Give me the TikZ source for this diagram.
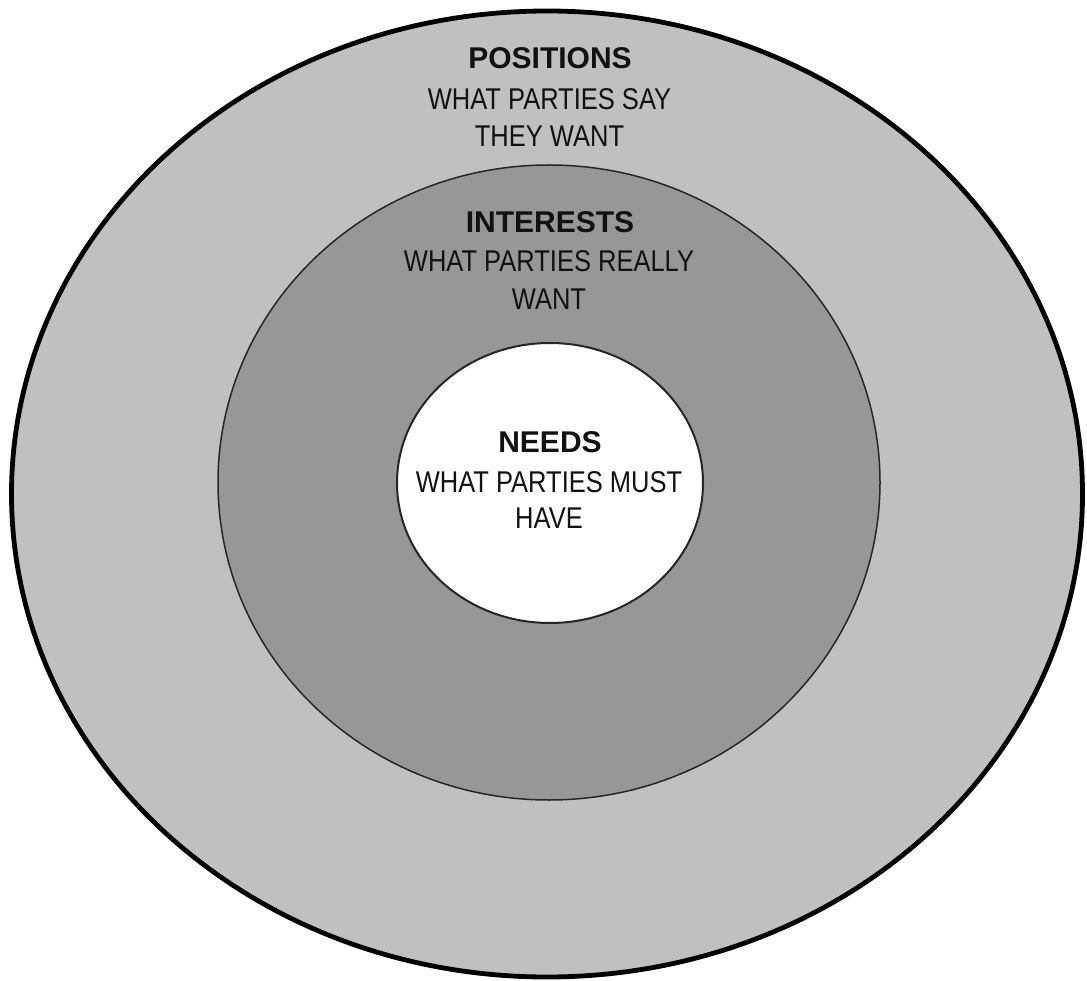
\documentclass[tikz,border=0pt]{standalone}
\usepackage{fontspec}
\setmainfont{Liberation Sans}
\newfontfamily\regfont{Liberation Sans}[FakeStretch=0.85]
\newfontfamily\headfont{Liberation Sans Bold}[FakeStretch=1.0]
\usetikzlibrary{shapes.geometric}
\definecolor{outerfill}{RGB}{192,192,192}
\definecolor{midfill}{RGB}{151,151,151}
\definecolor{txt}{RGB}{17,17,17}
\tikzset{
  ring/.style={ellipse, draw=black, inner sep=0pt, outer sep=0pt},
  headtxt/.style={anchor=base, inner sep=0pt, text=txt, font=\headfont\fontsize{30}{34}\selectfont},
  subtxt/.style={anchor=base, inner sep=0pt, text=txt, font=\regfont\fontsize{30}{34}\selectfont}
}
\begin{document}
\begin{tikzpicture}[x=1pt,y=-1pt]
\useasboundingbox (0,0) rectangle (1087,981);
\fill[white] (0,0) rectangle (1087,981);
\node[ring, fill=outerfill, line width=4.8pt, minimum width=1071pt, minimum height=966pt] (outer) at (547,494) {};
\node[ring, fill=midfill, draw=black!85, line width=1.5pt, minimum width=662pt, minimum height=635pt] (middle) at (549,482.5) {};
\node[ring, fill=white, draw=black!85, line width=2pt, minimum width=306pt, minimum height=280pt] (inner) at (550,483) {};
\node[headtxt] (pos1) at (550,69) {POSITIONS};
\node[subtxt] (pos2) at (549.5,110) {WHAT PARTIES SAY};
\node[subtxt] (pos3) at (549.5,147) {THEY WANT};
\node[headtxt] (int1) at (550,233) {INTERESTS};
\node[subtxt] (int2) at (549,272) {WHAT PARTIES REALLY};
\node[subtxt] (int3) at (549,310) {WANT};
\node[headtxt] (need1) at (550,453) {NEEDS};
\node[subtxt] (need2) at (549,492) {WHAT PARTIES MUST};
\node[subtxt] (need3) at (549,528) {HAVE};
\end{tikzpicture}
\end{document}
